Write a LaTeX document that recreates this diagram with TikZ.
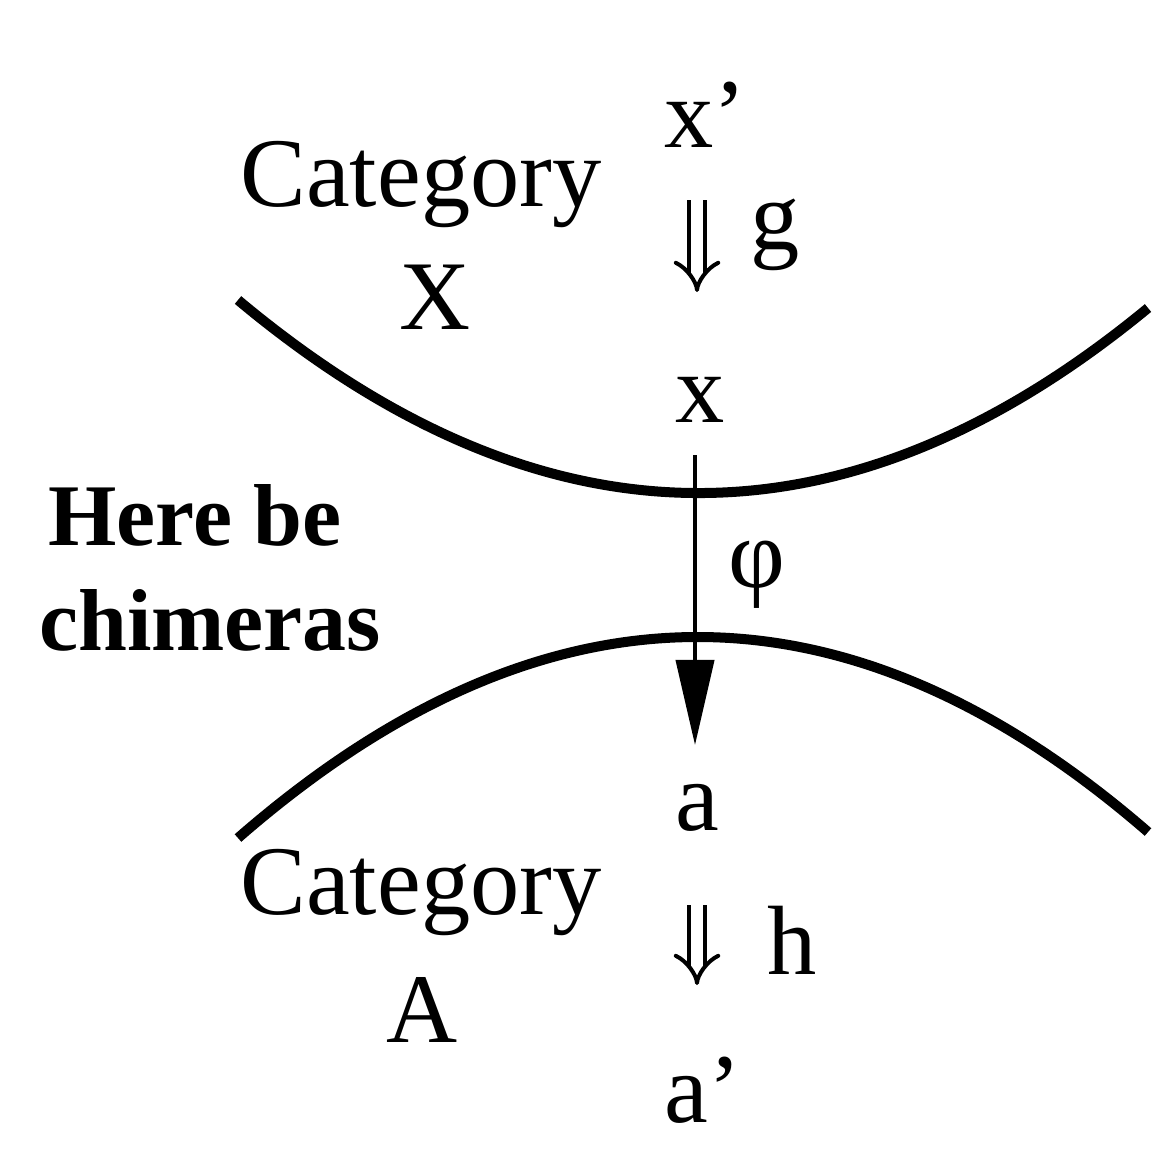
\documentclass[tikz,border=0pt]{standalone}
\usepackage{fontspec}
\setmainfont{Liberation Serif}
\usetikzlibrary{arrows.meta}
\begin{document}
\begin{tikzpicture}[x=0.01cm,y=-0.01cm,
  lbl/.style={inner sep=0pt,font=\fontsize{28}{31}\selectfont},
  bl/.style={inner sep=0pt,font=\fontsize{25}{28}\selectfont\bfseries},
  arc/.style={line width=0.1cm},
  dbl/.style={double,double distance=0.12cm,line width=0.04cm,-{Implies}}]
\useasboundingbox (0,0) rectangle (1168,1151);
\draw[arc] (238,300) .. controls (543,555) and (846,557) .. (1148,308);
\draw[arc] (238,838) .. controls (543,572) and (846,570) .. (1148,832);
\node[lbl] (c1) at (421,185) {Category};
\node[lbl] (X) at (435,297) {X};
\node[lbl] (xp) at (705,115) {x\char"27};
\node[lbl] (g) at (775,235) {g};
\node[lbl] (x) at (700,400) {x};
\node[lbl] (phi) at (757,575) {φ};
\node[lbl] (a) at (697,808) {a};
\node[lbl] (h) at (792,940) {h};
\node[lbl] (c2) at (421,893) {Category};
\node[lbl] (A) at (422,1010) {A};
\node[lbl] (ap) at (703,1090) {a\char"27};
\node[bl] (t1) at (195,515) {Here be};
\node[bl] (t2) at (210,620) {chimeras};
\coordinate (s1) at (697,200); \coordinate (e1) at (697,292);
\coordinate (s2) at (697,905); \coordinate (e2) at (697,985);
\draw[dbl] (s1) -- (e1);
\draw[dbl] (s2) -- (e2);
\coordinate (ps) at (695,455); \coordinate (pe) at (695,745);
\draw[line width=0.04cm,-{Triangle[length=0.85cm,width=0.38cm]}] (ps) -- (pe);
\end{tikzpicture}
\end{document}
